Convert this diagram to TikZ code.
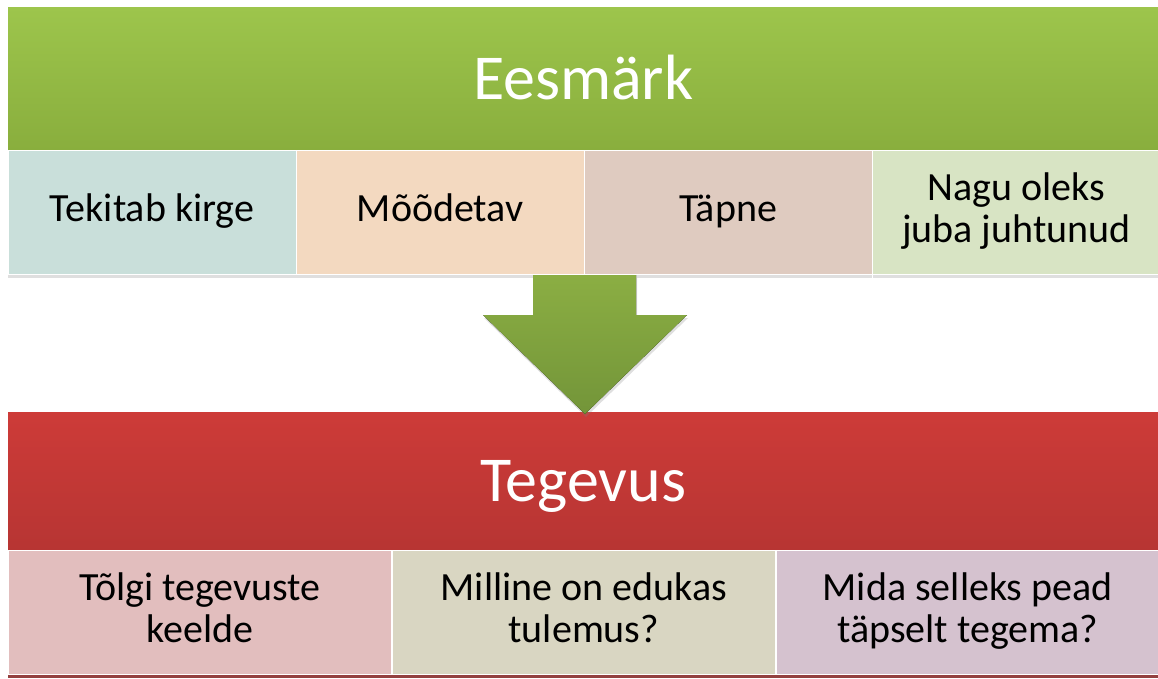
\documentclass[tikz,border=0pt]{standalone}
\usepackage{fontspec}
\setmainfont{Carlito}
\usetikzlibrary{positioning,shadows}

\definecolor{goaltop}{HTML}{9DC54C}
\definecolor{goalbot}{HTML}{89AE3D}
\definecolor{goalA}{HTML}{C9DFDA}
\definecolor{goalB}{HTML}{F3D9C0}
\definecolor{goalC}{HTML}{DFCBC0}
\definecolor{goalD}{HTML}{D8E4C4}
\definecolor{arrtop}{HTML}{8BAE43}
\definecolor{arrbot}{HTML}{739539}
\definecolor{acttop}{HTML}{CD3B38}
\definecolor{actbot}{HTML}{B73533}
\definecolor{actA}{HTML}{E2BEBE}
\definecolor{actB}{HTML}{D9D6C2}
\definecolor{actC}{HTML}{D5C2CF}

\begin{document}
\begin{tikzpicture}[x=1pt,y=-1pt,
  head node/.style={rectangle,anchor=north west,minimum width=1150pt,minimum height=143pt,
    inner sep=0pt,text height=41pt,text depth=0pt,text=white,font=\fontsize{64}{70}\selectfont},
  sub node/.style={rectangle,draw=white,line width=.6pt,minimum height=124pt,inner sep=0pt,
    align=center,font=\fontsize{40}{42}\selectfont,
    drop shadow={shadow xshift=0pt,shadow yshift=-3pt,opacity=.25}},
  goal sub/.style={sub node,minimum width=287.5pt},
  act sub/.style={sub node,minimum width=383.3pt}]
  \useasboundingbox (0,0) rectangle (1158,678);

  % upper block
  \node[head node,top color=goaltop,bottom color=goalbot] (goal) at (8,7) {Eesmärk};
  \node[goal sub,fill=goalA,anchor=north west] (g1) at (goal.south west) {\strut Tekitab kirge};
  \node[goal sub,fill=goalB,right=0pt of g1] (g2) {\strut Mõõdetav};
  \node[goal sub,fill=goalC,right=0pt of g2] (g3) {\strut Täpne};
  \node[goal sub,fill=goalD,right=0pt of g3] (g4) {\strut Nagu oleks\\\strut juba juhtunud};

  % lower block
  \fill[actbot!85!black] (8,670) rectangle (1158,678);
  \node[head node,top color=acttop,bottom color=actbot,minimum height=138pt] (act) at (8,412) {Tegevus};
  \node[act sub,fill=actA,anchor=north west] (t1) at (act.south west) {\strut Tõlgi tegevuste\\\strut keelde};
  \node[act sub,fill=actB,right=0pt of t1] (t2) {\strut Milline on edukas\\\strut tulemus?};
  \node[act sub,fill=actC,right=0pt of t2] (t3) {\strut Mida selleks pead\\\strut täpselt tegema?};

  % arrow
  \fill[top color=arrtop,bottom color=arrbot,
    drop shadow={shadow xshift=1pt,shadow yshift=-3pt,opacity=.25}]
    (533,275) -- (636,275) -- (636,315) -- (687,315) -- (585,414)
    -- (483,315) -- (533,315) -- cycle;
\end{tikzpicture}
\end{document}
